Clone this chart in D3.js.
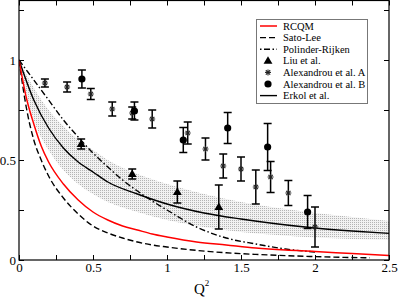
<!DOCTYPE html>
<html><head><meta charset="utf-8">
<script src="https://cdn.jsdelivr.net/npm/d3@7"></script>
<style>body{margin:0;background:#fff}svg{display:block}</style>
</head><body>
<svg id="c" width="398" height="297"></svg>
<script>
// ---- data ----
const rcqmQ   = [0,0.05,0.1,0.15,0.2,0.3,0.4,0.5,0.6,0.7,0.8,0.9,1.0,1.2,1.4,1.6,1.8,2.0,2.25,2.5];
const rcqmF   = [1,0.81,0.68,0.57,0.49,0.38,0.3,0.24,0.2,0.17,0.15,0.13,0.115,0.09,0.075,0.06,0.05,0.043,0.032,0.022];
const satoQ   = [0,0.05,0.1,0.15,0.2,0.3,0.4,0.5,0.6,0.7,0.8,0.9,1.0,1.2,1.4,1.6,1.8,2.0,2.2,2.37];
const satoF   = [1,0.76,0.6,0.5,0.42,0.31,0.23,0.17,0.135,0.11,0.09,0.075,0.065,0.048,0.036,0.028,0.022,0.017,0.013,0.011];
const polQ    = [0,0.1,0.2,0.3,0.4,0.5,0.6,0.7,0.8,0.9,1.0,1.2,1.4,1.6,1.8,2.0];
const polF    = [1,0.9,0.8,0.7,0.615,0.535,0.465,0.4,0.345,0.295,0.25,0.165,0.11,0.08,0.055,0.04];
const erkQ    = [0,0.1,0.2,0.3,0.4,0.5,0.6,0.8,1.0,1.25,1.5,1.75,2.0,2.25,2.5];
const erkF    = [1,0.8,0.66,0.56,0.49,0.44,0.39,0.33,0.28,0.235,0.205,0.18,0.16,0.145,0.133];
const bandQ   = [0,0.1,0.2,0.3,0.4,0.5,0.6,0.8,1.0,1.25,1.5,1.75,2.0,2.25,2.5];
const bandHi  = [1,0.86,0.75,0.67,0.6,0.55,0.5,0.43,0.38,0.33,0.29,0.26,0.235,0.215,0.195];
const bandLo  = [1,0.7,0.55,0.45,0.38,0.33,0.29,0.24,0.2,0.165,0.14,0.125,0.112,0.105,0.1];
// [Q2, value, error]
const liu = [[0.42,0.58,0.025],[0.765,0.43,0.025],[1.07,0.34,0.055],[1.35,0.265,0.11]];
const alexA = [[0.175,0.885,0.02],[0.325,0.865,0.025],[0.485,0.83,0.028],[0.63,0.755,0.035],
  [0.765,0.735,0.03],[0.9,0.705,0.045],[1.14,0.635,0.055],[1.26,0.555,0.055],[1.38,0.47,0.06],
  [1.5,0.455,0.06],[1.6,0.365,0.085],[1.7,0.415,0.078],[1.82,0.335,0.063],[2.0,0.165,0.1]];
const alexB = [[0.425,0.905,0.045],[0.78,0.745,0.045],[1.11,0.6,0.062],[1.41,0.66,0.078],
  [1.68,0.565,0.118],[1.95,0.24,0.083]];
const xTicks = [0,0.25,0.5,0.75,1,1.25,1.5,1.75,2,2.25,2.5];
const yTicks = [0,0.25,0.5,0.75,1,1.25];
const xLabels = {0:"0",0.5:"0.5",1:"1",1.5:"1.5",2:"2",2.5:"2.5"};
const yLabels = {0:"0",0.5:"0.5",1:"1"};
const legendNames = ["RCQM","Sato-Lee","Polinder-Rijken","Liu et al.","Alexandrou et al. A","Alexandrou et al. B","Erkol et al."];

// ---- drawing ----
const svg = d3.select("#c");
const FONT = "'Liberation Serif','Times New Roman',serif";
const L=19, R=389, T=0.5, B=260;
const x = d3.scaleLinear().domain([0,2.5]).range([L,R]);
const y = d3.scaleLinear().domain([0,1.3]).range([B,0]);

const defs = svg.append("defs");
const pat = defs.append("pattern").attr("id","dots").attr("width",2).attr("height",2)
  .attr("patternUnits","userSpaceOnUse");
pat.append("rect").attr("width",2).attr("height",2).attr("fill","#f2f2f2");
pat.append("rect").attr("width",1).attr("height",1).attr("fill","#b4b4b4");

const clip = defs.append("clipPath").attr("id","plot");
clip.append("rect").attr("x",L).attr("y",T).attr("width",R-L).attr("height",B-T);

const g = svg.append("g").attr("clip-path","url(#plot)");

// band
const area = d3.area().x(d=>x(d[0])).y0(d=>y(d[2])).y1(d=>y(d[1])).curve(d3.curveMonotoneX);
g.append("path").datum(bandQ.map((q,i)=>[q,bandHi[i],bandLo[i]]))
  .attr("d",area).attr("fill","url(#dots)");

const line = d3.line().x(d=>x(d[0])).y(d=>y(d[1])).curve(d3.curveMonotoneX);
function curve(qs,fs,stroke,dash,w){
  g.append("path").datum(qs.map((q,i)=>[q,fs[i]])).attr("d",line)
   .attr("fill","none").attr("stroke",stroke).attr("stroke-width",w)
   .attr("stroke-dasharray",dash);
}
curve(satoQ,satoF,"#000","6,3",1.4);
curve(polQ,polF,"#000","6,2.5,1.5,2.5",1.4);
curve(erkQ,erkF,"#000",null,1.4);
curve(rcqmQ,rcqmF,"#ff0000",null,1.5);

// error bars
function errs(data){
  data.forEach(d=>{
    const cx=x(d[0]), y1=y(d[1]+d[2]), y2=y(d[1]-d[2]);
    const e=g.append("g").attr("stroke","#000").attr("stroke-width",1.5);
    e.append("line").attr("x1",cx).attr("x2",cx).attr("y1",y1).attr("y2",y2);
    e.append("line").attr("x1",cx-4).attr("x2",cx+4).attr("y1",y1).attr("y2",y1);
    e.append("line").attr("x1",cx-4).attr("x2",cx+4).attr("y1",y2).attr("y2",y2);
  });
}
errs(liu); errs(alexA); errs(alexB);

function tri(sel,cx,cy){
  sel.append("path").attr("d",d3.symbol(d3.symbolTriangle,34)()).attr("transform",`translate(${cx},${cy+0.5})`).attr("fill","#000");
}
function star(sel,cx,cy){
  const s=3;
  const p=sel.append("g").attr("stroke","#222").attr("stroke-width",1.1);
  [[s,0],[0,s],[s*0.72,s*0.72],[s*0.72,-s*0.72]].forEach(v=>{
    p.append("line").attr("x1",cx-v[0]).attr("x2",cx+v[0]).attr("y1",cy-v[1]).attr("y2",cy+v[1]);
  });
}
function dot(sel,cx,cy){
  sel.append("circle").attr("cx",cx).attr("cy",cy).attr("r",3.6).attr("fill","#000");
}
liu.forEach(d=>tri(g,x(d[0]),y(d[1])));
alexA.forEach(d=>star(g,x(d[0]),y(d[1])));
alexB.forEach(d=>dot(g,x(d[0]),y(d[1])));

// axes
const fmtX = d=> xLabels[d]!==undefined ? xLabels[d] : "";
const fmtY = d=> yLabels[d]!==undefined ? yLabels[d] : "";
function styleAxis(a){
  a.select(".domain").remove();
  a.selectAll("line").attr("stroke","#000").attr("stroke-width",1);
  a.selectAll("text").attr("font-family",FONT).attr("font-size",13).attr("fill","#000");
}
svg.append("g").attr("transform",`translate(0,${B})`)
  .call(d3.axisBottom(x).tickValues(xTicks).tickSize(-5).tickPadding(3).tickFormat(fmtX)).call(styleAxis);
svg.append("g").attr("transform",`translate(0,${T})`)
  .call(d3.axisTop(x).tickValues(xTicks).tickSize(-5).tickFormat("")).call(styleAxis);
svg.append("g").attr("transform",`translate(${L},0)`)
  .call(d3.axisLeft(y).tickValues(yTicks).tickSize(-5).tickPadding(3).tickFormat(fmtY)).call(styleAxis);
svg.append("g").attr("transform",`translate(${R},0)`)
  .call(d3.axisRight(y).tickValues(yTicks).tickSize(-5).tickFormat("")).call(styleAxis);

svg.append("rect").attr("x",L).attr("y",T).attr("width",R-L).attr("height",B-T)
  .attr("fill","none").attr("stroke","#000").attr("stroke-width",1.2);

// axis title
const qt = svg.append("text").attr("x",194).attr("y",294).attr("font-family",FONT).attr("font-size",15).attr("fill","#000");
qt.append("tspan").text("Q");
qt.append("tspan").attr("font-size",9).attr("dy",-8).text("2");

// legend
const lg = svg.append("g");
lg.append("rect").attr("x",256.5).attr("y",19.5).attr("width",111).attr("height",84)
  .attr("fill","#fff").attr("stroke","#777").attr("stroke-width",1);
legendNames.forEach((name,i)=>{
  const ly = 26 + i*11.6;
  if(i===0) lg.append("line").attr("x1",260).attr("x2",277).attr("y1",ly).attr("y2",ly).attr("stroke","#ff0000").attr("stroke-width",1.5);
  if(i===1) lg.append("line").attr("x1",260).attr("x2",277).attr("y1",ly).attr("y2",ly).attr("stroke","#000").attr("stroke-width",1.4).attr("stroke-dasharray","6,3");
  if(i===2) lg.append("line").attr("x1",260).attr("x2",277).attr("y1",ly).attr("y2",ly).attr("stroke","#000").attr("stroke-width",1.4).attr("stroke-dasharray","1.5,2.5,6,2.5");
  if(i===3) tri(lg,268,ly);
  if(i===4) star(lg,268,ly);
  if(i===5) dot(lg,268,ly);
  if(i===6) lg.append("line").attr("x1",260).attr("x2",277).attr("y1",ly).attr("y2",ly).attr("stroke","#000").attr("stroke-width",1.4);
  lg.append("text").attr("x",283).attr("y",ly+3.5).attr("font-family",FONT).attr("font-size",10.5).attr("fill","#000").text(name);
});
</script>
</body></html>
